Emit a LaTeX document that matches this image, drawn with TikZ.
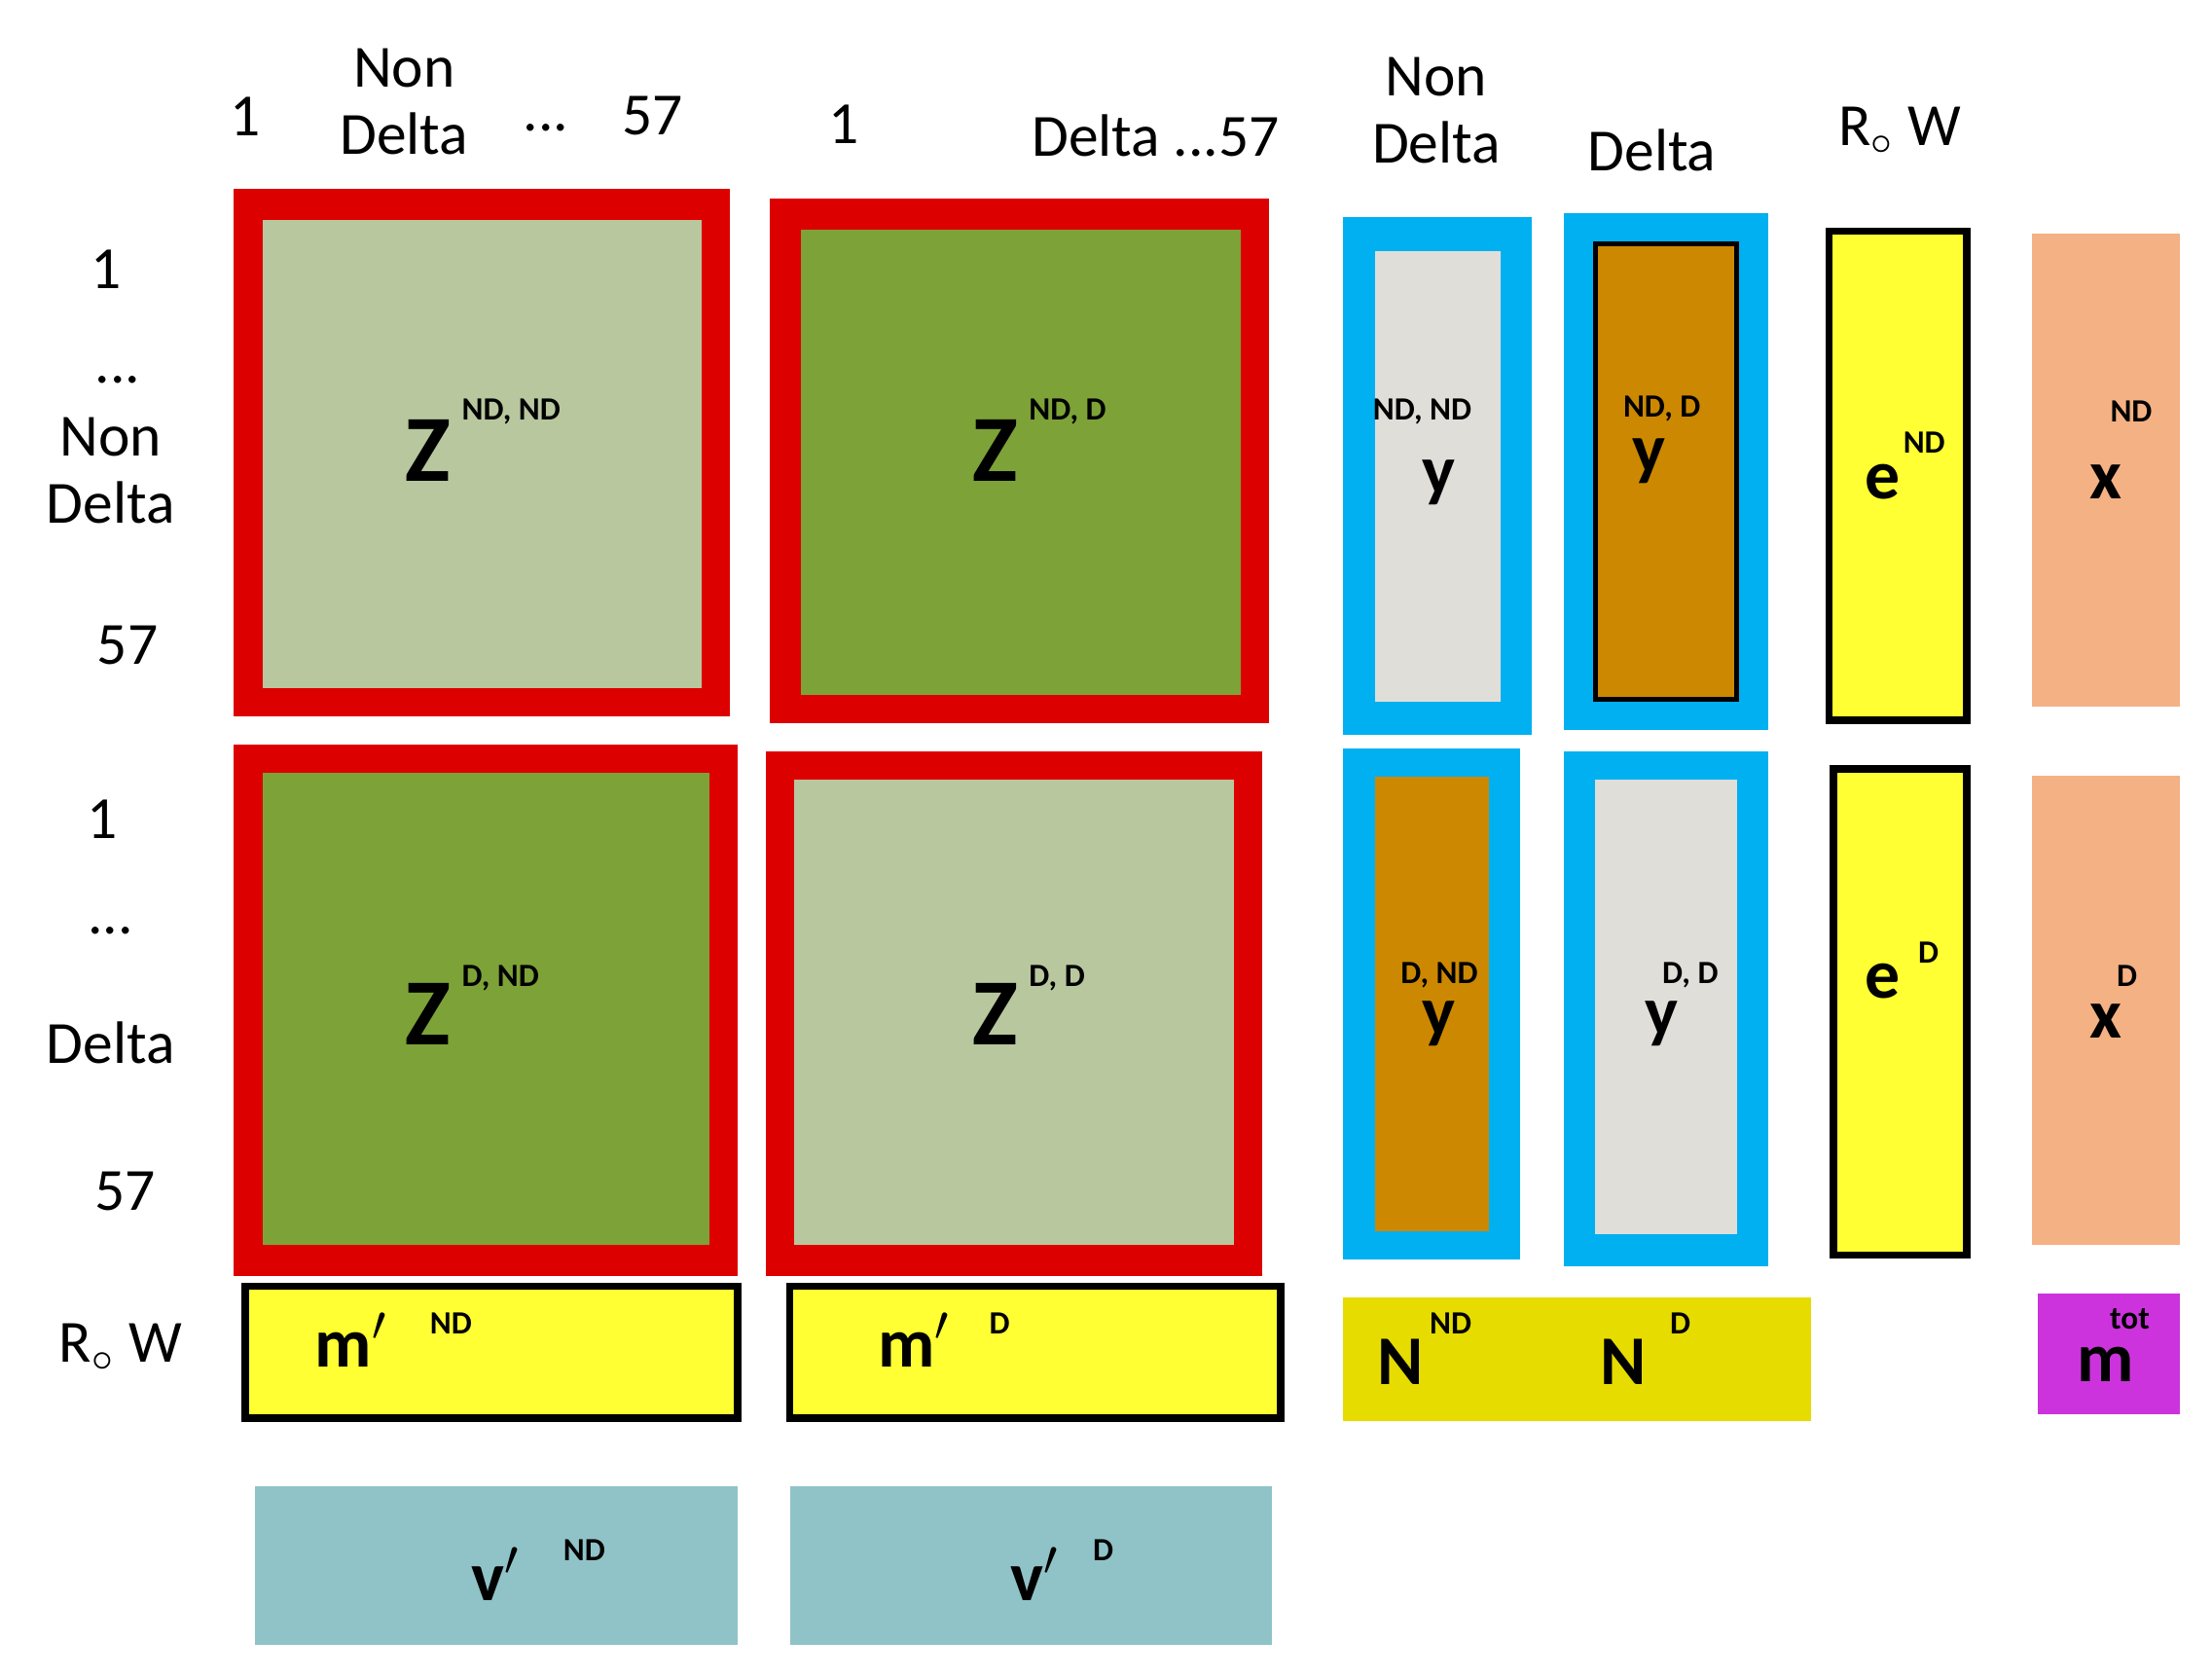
\documentclass[tikz,border=0pt]{standalone}
\usepackage{fontspec}
\setmainfont{Carlito}
\definecolor{rd}{HTML}{DD0000}
\definecolor{lg}{HTML}{B8C79E}
\definecolor{dg}{HTML}{7DA237}
\definecolor{bl}{HTML}{00B0F0}
\definecolor{gy}{HTML}{E0DED8}
\definecolor{br}{HTML}{CC8800}
\definecolor{ye}{HTML}{FFFF33}
\definecolor{og}{HTML}{F4B183}
\definecolor{ny}{HTML}{E6DC00}
\definecolor{mg}{HTML}{CC33DD}
\definecolor{tl}{HTML}{8FC3C8}
\begin{document}
\begin{tikzpicture}[x=0.01cm,y=-0.01cm,
 lab/.style={font=\fontsize{12}{13.5}\selectfont,align=center,inner sep=0},
 big/.style={font=\fontsize{19}{20}\selectfont\bfseries,inner sep=0},
 sup/.style={font=\fontsize{6.5}{7.5}\selectfont\bfseries,inner sep=0},
 mid/.style={font=\fontsize{14}{15}\selectfont\bfseries,inner sep=0}]
\useasboundingbox (0,0) rectangle (1560,1183);
% Z blocks
\fill[rd] (165,133) rectangle (515,505); \fill[lg] (185,155) rectangle (495,485);
\fill[rd] (543,140) rectangle (895,510); \fill[dg] (565,162) rectangle (875,490);
\fill[rd] (165,525) rectangle (520,900); \fill[dg] (185,545) rectangle (500,878);
\fill[rd] (540,530) rectangle (890,900); \fill[lg] (560,550) rectangle (870,878);
% y blocks
\fill[bl] (947,153) rectangle (1080,518); \fill[gy] (970,177) rectangle (1058,495);
\fill[bl] (1103,150) rectangle (1247,515); \filldraw[fill=br,draw=black,line width=1pt] (1125,172) rectangle (1225,493);
\fill[bl] (947,528) rectangle (1072,888); \fill[br] (970,548) rectangle (1050,868);
\fill[bl] (1103,530) rectangle (1247,893); \fill[gy] (1125,550) rectangle (1225,870);
% e, x
\filldraw[fill=ye,draw=black,line width=1.5pt] (1290,163) rectangle (1387,508);
\filldraw[fill=ye,draw=black,line width=1.5pt] (1293,542) rectangle (1387,885);
\fill[og] (1433,165) rectangle (1537,498);
\fill[og] (1433,547) rectangle (1537,878);
% bottom rows
\filldraw[fill=ye,draw=black,line width=1.5pt] (173,907) rectangle (520,1000);
\filldraw[fill=ye,draw=black,line width=1.5pt] (557,907) rectangle (903,1000);
\fill[ny] (947,915) rectangle (1277,1002);
\fill[mg] (1437,912) rectangle (1537,997);
\fill[tl] (180,1048) rectangle (520,1160);
\fill[tl] (557,1048) rectangle (897,1160);
% top labels
\node[lab] (t1) at (173,82) {1};
\node[lab] (t2) at (285,72) {Non\\Delta};
\node[lab] (t3) at (385,90) {...};
\node[lab] (t4) at (460,82) {57};
\node[lab] (t5) at (595,88) {1};
\node[lab] (t6) at (815,96) {Delta ...57};
\node[lab] (t7) at (1013,78) {Non\\Delta};
\node[lab] (t8) at (1165,106) {Delta};
\node[lab] (t9) at (1340,92) {R$_{\circ}$ W};
% left labels
\node[lab] (l1) at (75,190) {1};
\node[lab] (l2) at (83,268) {...};
\node[lab] (l3) at (78,332) {Non\\Delta};
\node[lab] (l4) at (90,455) {57};
\node[lab] (l5) at (72,578) {1};
\node[lab] (l6) at (78,656) {...};
\node[lab] (l7) at (78,735) {Delta};
\node[lab] (l8) at (88,840) {57};
\node[lab] (l9) at (85,950) {R$_{\circ}$ W};
% Z labels
\node[big] (z1) at (302,318) {Z}; \node[sup,anchor=west] (z1s) at (325,290) {ND, ND};
\node[big] (z2) at (702,318) {Z}; \node[sup,anchor=west] (z2s) at (725,290) {ND, D};
\node[big] (z3) at (302,715) {Z}; \node[sup,anchor=west] (z3s) at (325,690) {D, ND};
\node[big] (z4) at (702,715) {Z}; \node[sup,anchor=west] (z4s) at (725,690) {D, D};
% y labels
\node[sup] (y1s) at (1003,290) {ND, ND}; \node[mid] (y1) at (1015,340) {y};
\node[sup] (y2s) at (1172,288) {ND, D}; \node[mid] (y2) at (1163,325) {y};
\node[sup] (y3s) at (1015,688) {D, ND}; \node[mid] (y3) at (1015,722) {y};
\node[sup] (y4s) at (1192,688) {D, D}; \node[mid] (y4) at (1172,722) {y};
\node[mid] (e1) at (1328,340) {e}; \node[sup] (e1s) at (1357,312) {ND};
\node[mid] (e2) at (1328,692) {e}; \node[sup] (e2s) at (1360,672) {D};
\node[sup] (x1s) at (1503,290) {ND}; \node[mid] (x1) at (1485,340) {x};
\node[sup] (x2s) at (1500,688) {D}; \node[mid] (x2) at (1485,720) {x};
% bottom labels
\node[mid] (m1) at (248,945) {m$'$}; \node[sup] (m1s) at (318,933) {ND};
\node[mid] (m2) at (645,945) {m$'$}; \node[sup] (m2s) at (705,933) {D};
\node[mid] (n1) at (988,960) {N}; \node[sup] (n1s) at (1023,933) {ND};
\node[mid] (n2) at (1145,960) {N}; \node[sup] (n2s) at (1185,933) {D};
\node[mid] (mt) at (1485,962) {m}; \node[sup] (mts) at (1502,930) {tot};
\node[mid] (v1) at (350,1110) {v$'$}; \node[sup] (v1s) at (412,1093) {ND};
\node[mid] (v2) at (730,1110) {v$'$}; \node[sup] (v2s) at (778,1093) {D};
\end{tikzpicture}
\end{document}
